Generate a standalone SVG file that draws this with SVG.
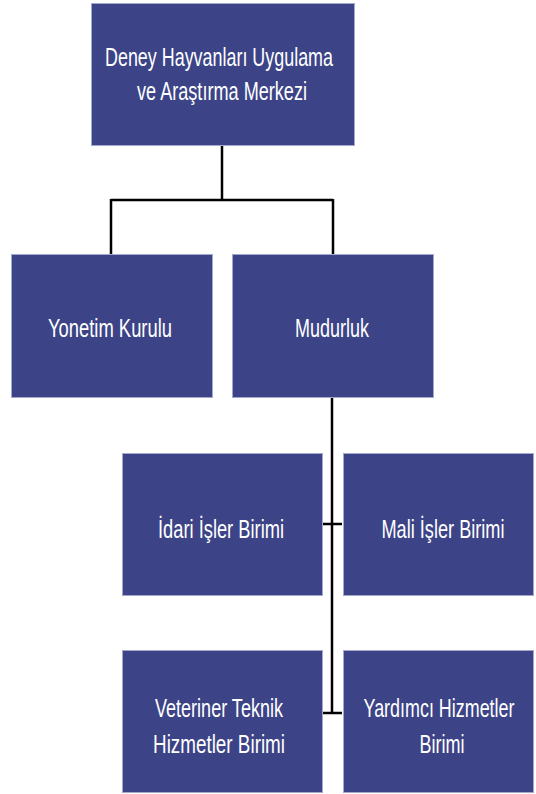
<svg xmlns="http://www.w3.org/2000/svg" width="536" height="794" viewBox="0 0 536 794">
<style>
.box{fill:#3c4487;stroke:#a4a8cc;stroke-width:1}
.t{fill:#ffffff;font-family:"Liberation Sans","DejaVu Sans",sans-serif;font-size:25px;text-anchor:middle}
.c{stroke:#000000;stroke-width:2.5;fill:none}
</style>
<rect width="536" height="794" fill="#ffffff"/>
<g id="connectors">
<path class="c" d="M222,145 V200 M111,200 H333 M111,199 V254 M333,199 V254"/>
<path class="c" d="M332,398 V713 M323,524 H342 M323,713 H342"/>
</g>
<g id="merkez">
<rect class="box" x="91.5" y="3.5" width="263" height="142"/>
<text class="t" transform="translate(219,66) scale(0.73,1)" textLength="312.3" lengthAdjust="spacingAndGlyphs">Deney Hayvanları Uygulama</text>
<text class="t" transform="translate(222,100) scale(0.73,1)" textLength="232.9" lengthAdjust="spacingAndGlyphs">ve Araştırma Merkezi</text>
</g>
<g id="yonetim">
<rect class="box" x="11.5" y="254.5" width="201" height="143"/>
<text class="t" transform="translate(110,337) scale(0.73,1)" textLength="169.9" lengthAdjust="spacingAndGlyphs">Yonetim Kurulu</text>
</g>
<g id="mudurluk">
<rect class="box" x="232.5" y="254.5" width="201" height="143"/>
<text class="t" transform="translate(332,337) scale(0.73,1)" textLength="101.4" lengthAdjust="spacingAndGlyphs">Mudurluk</text>
</g>
<g id="idari">
<rect class="box" x="122.5" y="453.5" width="200" height="142"/>
<text class="t" transform="translate(221,538) scale(0.73,1)" textLength="172.6" lengthAdjust="spacingAndGlyphs">İdari İşler Birimi</text>
</g>
<g id="mali">
<rect class="box" x="343.5" y="453.5" width="190" height="142"/>
<text class="t" transform="translate(443,538) scale(0.73,1)" textLength="168.5" lengthAdjust="spacingAndGlyphs">Mali İşler Birimi</text>
</g>
<g id="veteriner">
<rect class="box" x="122.5" y="650.5" width="200" height="142"/>
<text class="t" transform="translate(219,717) scale(0.73,1)" textLength="175.3" lengthAdjust="spacingAndGlyphs">Veteriner Teknik</text>
<text class="t" transform="translate(219,753) scale(0.73,1)" textLength="180.8" lengthAdjust="spacingAndGlyphs">Hizmetler Birimi</text>
</g>
<g id="yardimci">
<rect class="box" x="343.5" y="650.5" width="190" height="142"/>
<text class="t" transform="translate(439,717) scale(0.73,1)" textLength="206.8" lengthAdjust="spacingAndGlyphs">Yardımcı Hizmetler</text>
<text class="t" transform="translate(442,753) scale(0.73,1)" textLength="61.6" lengthAdjust="spacingAndGlyphs">Birimi</text>
</g>
</svg>
